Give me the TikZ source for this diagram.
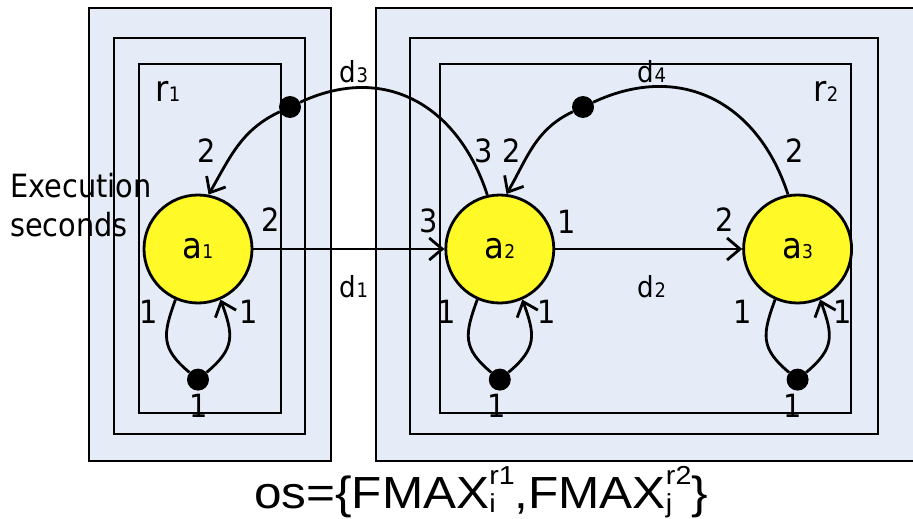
\documentclass[tikz,border=0pt]{standalone}
\usepackage{fontspec}
\setmainfont{DejaVu Sans}[FakeStretch=0.9]
\newfontfamily\osfont{Liberation Sans}[FakeStretch=1.1]
\usepackage{xcolor}
\usepackage{tikz}
\usetikzlibrary{arrows.meta, positioning}

\definecolor{regionblue}{RGB}{230,236,247}
\definecolor{taskyellow}{RGB}{255,249,40}
\newcommand{\idx}[3]{#1{\fontsize{#3}{#3}\selectfont #2}}
\newcommand{\fmaxidx}[2]{\rlap{\raisebox{-4pt}{\fontsize{26}{26}\selectfont #1}}\raisebox{24pt}{\fontsize{26}{26}\selectfont #2}}

\begin{document}
\begin{tikzpicture}[
  x=1pt, y=-1pt,
  font=\fontsize{32}{39}\selectfont,
  region/.style={draw=black, line width=1.6pt, fill=regionblue},
  outerregion/.style={draw=black, line width=2.2pt, fill=regionblue},
  task/.style={circle, draw=black, line width=2.8pt, fill=taskyellow, minimum size=108pt, inner sep=0pt, font=\fontsize{36}{36}\selectfont},
  port/.style={circle, fill=black, minimum size=22pt, inner sep=0pt},
  num/.style={inner sep=0pt},
  dlabel/.style={inner sep=0pt, font=\fontsize{29}{29}\selectfont},
  link/.style={line width=2.8pt},
  dep/.style={line width=2.8pt, -{Straight Barb[length=13pt, width=22pt]}}
]
\useasboundingbox (0,0) rectangle (913,519);
\draw[outerregion] (89,8) rectangle (331,461);
\draw[region] (114,38) rectangle (305,434);
\draw[region] (139,64) rectangle (281,413);
\draw[outerregion] (376,8) rectangle (940,461);
\draw[region] (410,38) rectangle (878,434);
\draw[region] (440,64) rectangle (851,413);

\node[num, anchor=north west, align=left] (exec) at (10,173) {Execution\\seconds};
\node[num, font=\fontsize{36}{36}\selectfont] (r1) at (168,91) {\idx{r}{1}{20}};
\node[num, font=\fontsize{36}{36}\selectfont] (r2) at (826,91) {\idx{r}{2}{20}};

\node[task] (a1) at (198,249) {\idx{a}{1}{19}};
\node[task, right=191pt of a1] (a2) {\idx{a}{2}{19}};
\node[task, right=187pt of a2] (a3) {\idx{a}{3}{19}};

\node[port] (d3p) at (290,107) {};
\node[port] (d4p) at (583,107) {};

\node[dlabel] (d1) at (354,287) {\idx{d}{1}{20}};
\node[dlabel] (d2) at (652,287) {\idx{d}{2}{20}};
\node[dlabel] (d3) at (354,72) {\idx{d}{3}{20}};
\node[dlabel] (d4) at (652,72) {\idx{d}{4}{20}};

\draw[dep] (a1) -- (a2);
\draw[dep] (a2) -- (a3);
\draw[link] (a2.103) to[out=108, in=25, looseness=1.15] (d3p);
\draw[dep] (d3p) to[out=205, in=60] (a1.79);
\draw[link] (a3.100) to[out=108, in=25, looseness=1.15] (d4p);
\draw[dep] (d4p) to[out=205, in=60] (a2.83);

\node[num] (n1) at (207,151) {2};
\node[num] (n2) at (271,220) {2};
\node[num] (n3) at (429,221) {3};
\node[num] (n4) at (567,222) {1};
\node[num] (n5) at (725,220) {2};
\node[num] (n6) at (484,151) {3};
\node[num] (n7) at (512,151) {2};
\node[num] (n8) at (795,151) {2};

\foreach \t/\x in {a1/199, a2/497, a3/793} {
  \node[port, below=64pt of \t] (\t-p) {};
  \draw[link] (\t.246) to[out=250, in=140, looseness=1.3] (\t-p);
  \draw[dep] (\t-p) to[out=40, in=290, looseness=1.3] (\t.294);
  \node[num] (\t-l) at ({\x-50},312) {1};
  \node[num] (\t-r) at ({\x+50},312) {1};
  \node[num] (\t-b) at (\x,406) {1};
}

\node[inner sep=0pt, anchor=base, font=\osfont\fontsize{45}{45}\selectfont] (os) at (481,508) {os=\{FMAX\fmaxidx{i}{r1},FMAX\fmaxidx{j}{r2}\}};
\end{tikzpicture}
\end{document}
